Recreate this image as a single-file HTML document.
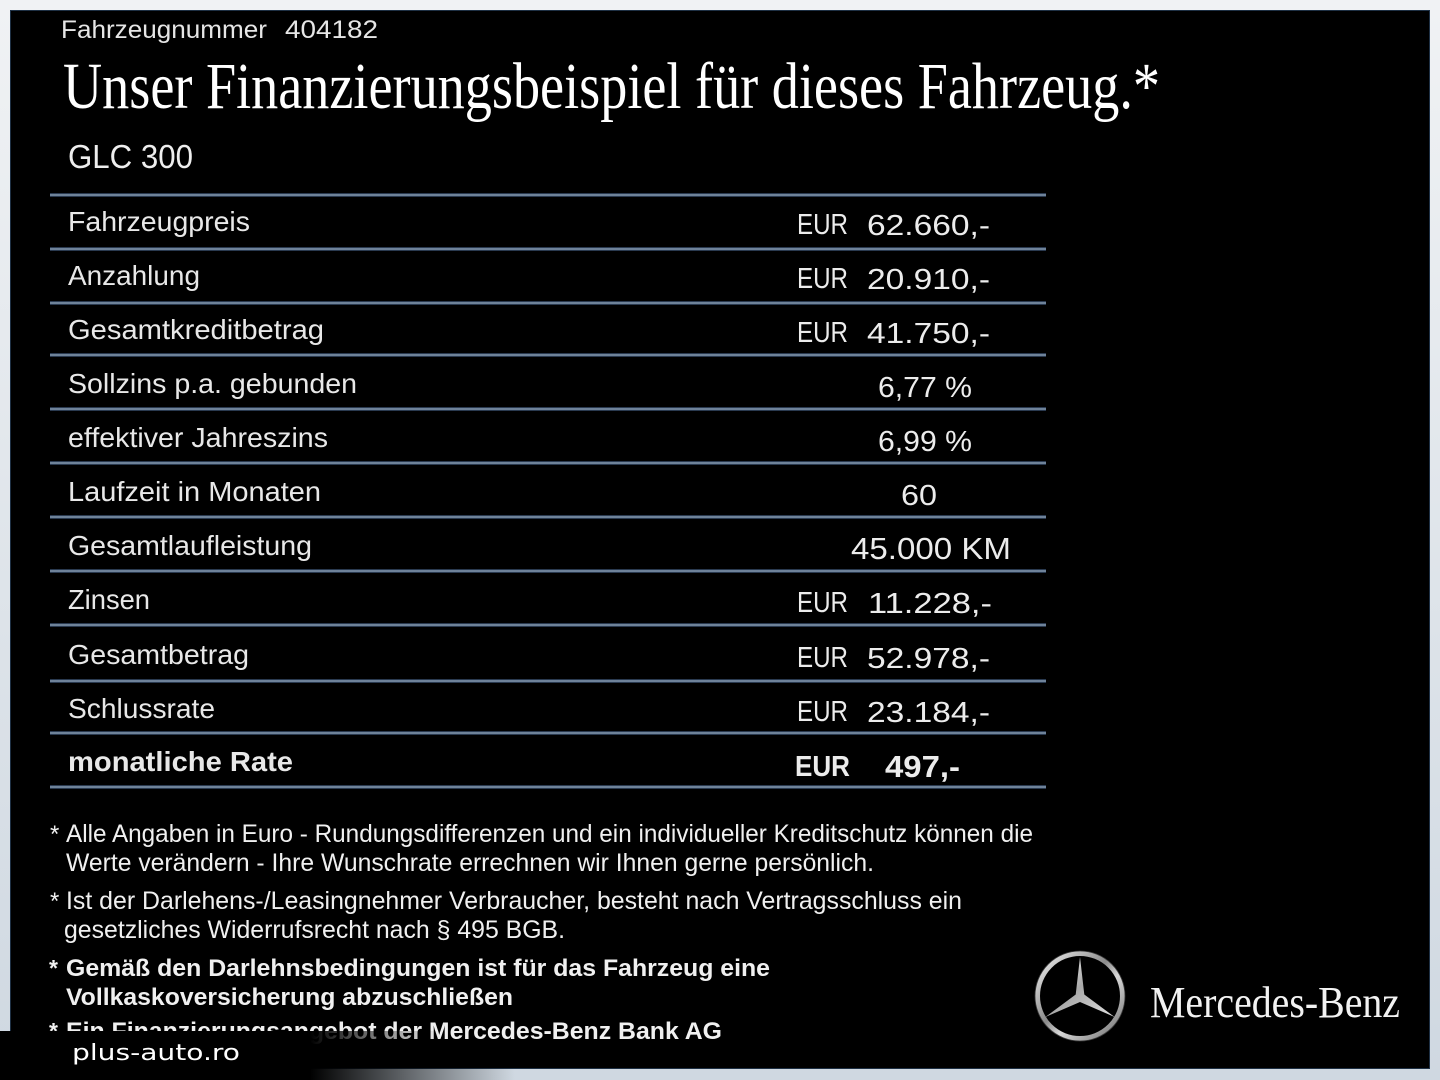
<!DOCTYPE html>
<html><head><meta charset="utf-8"><style>
html,body{margin:0;padding:0;background:#e6eaee;}
svg{display:block;}
</style></head><body>
<svg width="1440" height="1080" viewBox="0 0 1440 1080" xmlns="http://www.w3.org/2000/svg">
<defs>
<linearGradient id="bg" x1="0" y1="0" x2="0" y2="1">
<stop offset="0" stop-color="#f0f2f4"/><stop offset="1" stop-color="#cfd8e1"/>
</linearGradient>
<linearGradient id="ring" x1="0" y1="0" x2="1" y2="1">
<stop offset="0" stop-color="#f4f4f4"/><stop offset="0.45" stop-color="#8a8a8a"/><stop offset="0.6" stop-color="#d8d8d8"/><stop offset="1" stop-color="#6a6a6a"/>
</linearGradient>
<linearGradient id="star" x1="0" y1="0" x2="1" y2="1">
<stop offset="0" stop-color="#ffffff"/><stop offset="0.5" stop-color="#a9a9a9"/><stop offset="1" stop-color="#e0e0e0"/>
</linearGradient>
<linearGradient id="fade" x1="0" y1="0" x2="1" y2="0">
<stop offset="0" stop-color="#000" stop-opacity="1"/><stop offset="1" stop-color="#000" stop-opacity="0"/>
</linearGradient>
<g id="ln"><rect x="50" y="0" width="996" height="1" fill="#2a3a50"/><rect x="50" y="1" width="996" height="2" fill="#6e8299"/><rect x="50" y="3" width="996" height="1" fill="#2a3a50"/></g>
</defs>
<rect x="0" y="0" width="1440" height="1080" fill="url(#bg)"/>
<rect x="10.5" y="10.5" width="1419" height="1058" fill="#000" stroke="#1e3044" stroke-width="1"/>

<g fill="#e6e6e6" font-family="Liberation Sans, Arial, sans-serif" font-size="25">
<text x="61" y="38" textLength="206" lengthAdjust="spacingAndGlyphs">Fahrzeugnummer</text>
<text x="285" y="38" textLength="93" lengthAdjust="spacingAndGlyphs">404182</text>
</g>
<text x="63" y="108" fill="#fff" font-family="Liberation Serif, Times New Roman, serif" font-size="66" textLength="1097" lengthAdjust="spacingAndGlyphs">Unser Finanzierungsbeispiel für dieses Fahrzeug.*</text>
<text x="68" y="168" fill="#eee" font-family="Liberation Sans, Arial, sans-serif" font-size="33" textLength="125" lengthAdjust="spacingAndGlyphs">GLC 300</text>

<use href="#ln" y="193"/>
<use href="#ln" y="247"/>
<use href="#ln" y="301"/>
<use href="#ln" y="353"/>
<use href="#ln" y="407"/>
<use href="#ln" y="461"/>
<use href="#ln" y="515"/>
<use href="#ln" y="569"/>
<use href="#ln" y="623"/>
<use href="#ln" y="679"/>
<use href="#ln" y="731"/>
<use href="#ln" y="785"/>

<g fill="#e8e8e8" font-family="Liberation Sans, Arial, sans-serif" font-size="28">
<text x="68" y="231" textLength="182" lengthAdjust="spacingAndGlyphs">Fahrzeugpreis</text>
<text x="68" y="285" textLength="132" lengthAdjust="spacingAndGlyphs">Anzahlung</text>
<text x="68" y="339" textLength="256" lengthAdjust="spacingAndGlyphs">Gesamtkreditbetrag</text>
<text x="68" y="393" textLength="289" lengthAdjust="spacingAndGlyphs">Sollzins p.a. gebunden</text>
<text x="68" y="447" textLength="260" lengthAdjust="spacingAndGlyphs">effektiver Jahreszins</text>
<text x="68" y="501" textLength="253" lengthAdjust="spacingAndGlyphs">Laufzeit in Monaten</text>
<text x="68" y="555" textLength="244" lengthAdjust="spacingAndGlyphs">Gesamtlaufleistung</text>
<text x="68" y="609" textLength="82" lengthAdjust="spacingAndGlyphs">Zinsen</text>
<text x="68" y="664" textLength="181" lengthAdjust="spacingAndGlyphs">Gesamtbetrag</text>
<text x="68" y="718" textLength="147" lengthAdjust="spacingAndGlyphs">Schlussrate</text>
<text x="68" y="771" font-weight="bold" textLength="225" lengthAdjust="spacingAndGlyphs">monatliche Rate</text>
</g>

<g fill="#ececec" font-family="Liberation Sans, Arial, sans-serif" font-size="29">
<text x="797" y="234" textLength="51" lengthAdjust="spacingAndGlyphs">EUR</text>
<text x="867" y="235" textLength="123" lengthAdjust="spacingAndGlyphs">62.660,-</text>
<text x="797" y="288" textLength="51" lengthAdjust="spacingAndGlyphs">EUR</text>
<text x="867" y="289" textLength="123" lengthAdjust="spacingAndGlyphs">20.910,-</text>
<text x="797" y="342" textLength="51" lengthAdjust="spacingAndGlyphs">EUR</text>
<text x="867" y="343" textLength="123" lengthAdjust="spacingAndGlyphs">41.750,-</text>
<text x="878" y="397" textLength="94" lengthAdjust="spacingAndGlyphs">6,77 %</text>
<text x="878" y="451" textLength="94" lengthAdjust="spacingAndGlyphs">6,99 %</text>
<text x="901" y="505" textLength="36" lengthAdjust="spacingAndGlyphs">60</text>
<text x="851" y="559" font-size="31" textLength="160" lengthAdjust="spacingAndGlyphs">45.000 KM</text>
<text x="797" y="612" textLength="51" lengthAdjust="spacingAndGlyphs">EUR</text>
<text x="868" y="613" textLength="124" lengthAdjust="spacingAndGlyphs">11.228,-</text>
<text x="797" y="667" textLength="51" lengthAdjust="spacingAndGlyphs">EUR</text>
<text x="867" y="668" textLength="123" lengthAdjust="spacingAndGlyphs">52.978,-</text>
<text x="797" y="721" textLength="51" lengthAdjust="spacingAndGlyphs">EUR</text>
<text x="867" y="722" textLength="123" lengthAdjust="spacingAndGlyphs">23.184,-</text>
<text x="795" y="776" font-weight="bold" textLength="55" lengthAdjust="spacingAndGlyphs">EUR</text>
<text x="885" y="777" font-weight="bold" font-size="31" textLength="75" lengthAdjust="spacingAndGlyphs">497,-</text>
</g>

<g fill="#f0f0f0" font-family="Liberation Sans, Arial, sans-serif" font-size="25">
<text x="50" y="842" font-size="24">*</text>
<text x="66" y="842" textLength="967" lengthAdjust="spacingAndGlyphs">Alle Angaben in Euro - Rundungsdifferenzen und ein individueller Kreditschutz können die</text>
<text x="66" y="871" textLength="808" lengthAdjust="spacingAndGlyphs">Werte verändern - Ihre Wunschrate errechnen wir Ihnen gerne persönlich.</text>
<text x="50" y="909" font-size="24">*</text>
<text x="66" y="909" textLength="896" lengthAdjust="spacingAndGlyphs">Ist der Darlehens-/Leasingnehmer Verbraucher, besteht nach Vertragsschluss ein</text>
<text x="64" y="938" textLength="501" lengthAdjust="spacingAndGlyphs">gesetzliches  Widerrufsrecht nach § 495 BGB.</text>
<g font-weight="bold" font-size="24">
<text x="49" y="976" font-size="23">*</text>
<text x="66" y="976" textLength="704" lengthAdjust="spacingAndGlyphs">Gemäß den Darlehnsbedingungen ist für das Fahrzeug eine</text>
<text x="66" y="1005" textLength="447" lengthAdjust="spacingAndGlyphs">Vollkaskoversicherung abzuschließen</text>
<text x="49" y="1039" font-size="23">*</text>
<text x="66" y="1039" textLength="656" lengthAdjust="spacingAndGlyphs">Ein Finanzierungsangebot der Mercedes-Benz Bank AG</text>
</g>
</g>

<!-- Mercedes logo -->
<circle cx="1080" cy="996" r="42.5" fill="none" stroke="url(#ring)" stroke-width="5"/>
<circle cx="1080" cy="996" r="45" fill="none" stroke="#3a3a3a" stroke-width="0.8"/>
<polygon points="1080,957 1084.3,994.5 1114.6,1017 1080,1002 1045.4,1017 1075.7,994.5" fill="url(#star)"/>
<text x="1150" y="1017" fill="#f2f2f2" font-family="Liberation Serif, Times New Roman, serif" font-size="44" textLength="250" lengthAdjust="spacingAndGlyphs">Mercedes-Benz</text>

<!-- bottom-left watermark band -->
<rect x="0" y="1031" width="310" height="49" fill="#000"/>
<rect x="310" y="1031" width="130" height="14" fill="url(#fade)"/>
<rect x="310" y="1066" width="205" height="14" fill="url(#fade)"/>
<text x="72" y="1060" fill="#fff" font-family="DejaVu Sans, Liberation Sans, sans-serif" font-size="22" textLength="168" lengthAdjust="spacingAndGlyphs">plus-auto.ro</text>
</svg>
</body></html>
